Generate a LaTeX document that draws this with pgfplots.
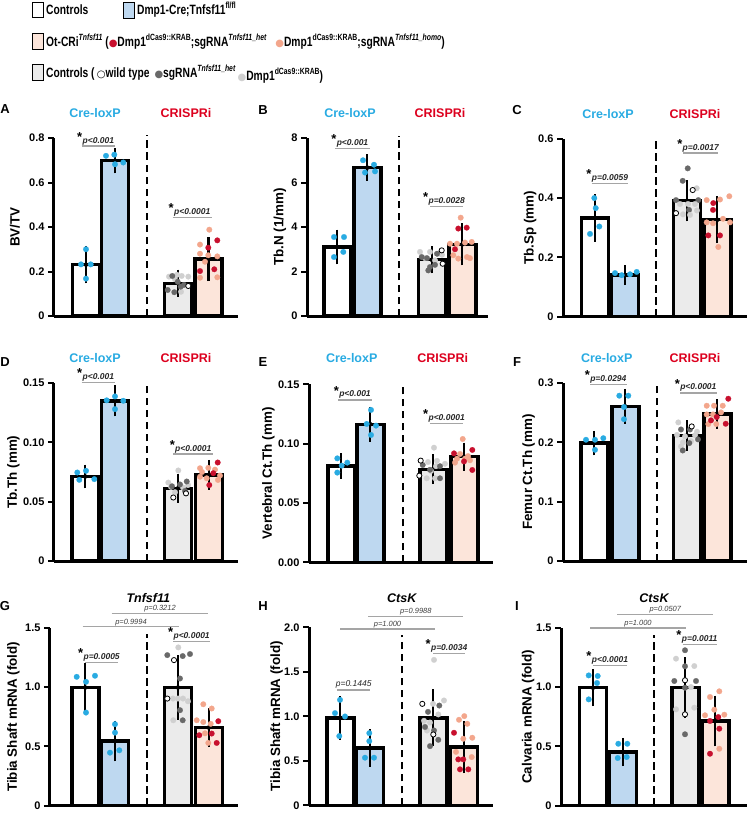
\documentclass[border=0pt]{standalone}
\usepackage{pgfplots}
\pgfplotsset{compat=1.18}
\usepackage{fontspec}
\setmainfont{Liberation Sans}
\newfontfamily\narrowf[FakeStretch=0.76]{Liberation Sans}
\newfontfamily\dejavu{DejaVu Sans}
\definecolor{cyanD}{RGB}{41,171,226}
\definecolor{blueBar}{RGB}{190,216,240}
\definecolor{grayBar}{RGB}{235,235,235}
\definecolor{pinkBar}{RGB}{252,229,218}
\definecolor{redD}{RGB}{200,16,46}
\definecolor{salD}{RGB}{243,166,140}
\definecolor{dkD}{RGB}{105,105,105}
\definecolor{ltD}{RGB}{208,208,208}
\definecolor{creT}{RGB}{41,171,226}
\definecolor{criT}{RGB}{220,0,30}
\definecolor{pline}{RGB}{165,165,165}
\newcommand\sups[1]{\raisebox{0.85ex}{\fontsize{9}{9}\selectfont #1}}
\newcommand\supi[1]{\raisebox{0.85ex}{\fontsize{9}{9}\selectfont\itshape #1}}
\newcommand\ldot[1]{\textcolor{#1}{\dejavu\fontsize{10}{10}\selectfont ●}}
\pgfplotsset{
 panel/.style={scale only axis, anchor=south west, height=178pt, axis lines=left,
   axis line style={-, line width=3pt, black}, xmin=0, ymin=0, xtick=\empty,
   tick align=outside, major tick length=6pt, ytick style={line width=2pt, black, solid},
   yticklabel style={font=\fontsize{11}{11}\selectfont\bfseries},
   ylabel style={font=\fontsize{13.4}{13.4}\selectfont\bfseries, anchor=center},
   clip=false, /pgf/number format/assume math mode=true},
 br/.style={ybar, bar shift=0pt, bar width=27, draw=black, line width=3.4pt, fill=#1, forget plot},
 eb/.style={only marks, mark=none, forget plot, /pgfplots/error bars/y dir=both, /pgfplots/error bars/y explicit,
   /pgfplots/error bars/error bar style={line width=2.2pt, black, solid},
   /pgfplots/error bars/error mark options={line width=2.2pt, black, mark size=7pt, solid}},
 dt/.style={only marks, mark=*, mark size=2.8pt, forget plot, mark options={fill=#1, draw=#1, line width=0.2pt, solid}},
 wd/.style={only marks, mark=*, mark size=2.6pt, forget plot, mark options={fill=white, draw=black, line width=0.8pt, solid}},
 dsh/.style={black, line width=2.3pt, dash pattern=on 7.5pt off 4.5pt, forget plot, mark=none},
}
\tikzset{
 pl/.style={draw=pline, line width=1.5pt},
 pt/.style={font=\fontsize{8.5}{8.5}\selectfont\bfseries\itshape, anchor=south, inner sep=0pt, yshift=1.2pt, text=black!85},
 pti/.style={font=\fontsize{8.5}{8.5}\selectfont\itshape, anchor=south, inner sep=0pt, yshift=1.2pt, text=black!85},
 cl/.style={draw=pline, line width=1.2pt},
 ct/.style={font=\fontsize{7.5}{7.5}\selectfont\itshape, anchor=south, inner sep=0pt, yshift=1pt, text=black!75},
 st/.style={font=\fontsize{13}{13}\selectfont\bfseries, anchor=base east, inner sep=0pt},
 ttl/.style={font=\fontsize{12.5}{12.5}\selectfont\bfseries},
 ltr/.style={font=\fontsize{13}{13}\selectfont\bfseries},
 gt/.style={font=\fontsize{12.5}{12.5}\selectfont\bfseries\itshape},
 lg/.style={font=\fontsize{13.5}{13.5}\selectfont\narrowf\bfseries, anchor=base west, inner sep=0pt},
 lbox/.style={draw=black, line width=1.4pt, minimum width=11pt, minimum height=15.5pt, inner sep=0pt},
}
\newcommand\pst[4]{\draw[pl] (axis cs:#1,#3) -- (axis cs:#2,#3);
 \node[pt] (ptn) at (axis cs:{(#1+#2)/2},#3) {#4};
 \node[st] at ([yshift=-4.5pt]ptn.north west) {*};}
\newcommand\pns[4]{\draw[pl] (axis cs:#1,#3) -- (axis cs:#2,#3);
 \node[pti] at (axis cs:{(#1+#2)/2},#3) {#4};}
\newcommand\pcmp[4]{\draw[cl] (axis cs:#1,#3) -- (axis cs:#2,#3);
 \node[ct] at (axis cs:{(#1+#2)/2},#3) {#4};}
\begin{document}
\begin{tikzpicture}
\path[use as bounding box] (0pt,0pt) rectangle (748pt,-813pt);
% ---------- legend ----------
\node[lbox, fill=white] at (38pt,-10pt) {};
\node[lg] at (46pt,-15pt) {Controls};
\node[lbox, fill=blueBar] at (129pt,-10.5pt) {};
\node[lg] at (137pt,-15pt) {Dmp1-Cre;Tnfsf11\sups{fl/fl}};
\node[lbox, fill=pinkBar] at (38pt,-41.5pt) {};
\node[lg] at (46pt,-47pt) {Ot-CRi\supi{Tnfsf11} (\ldot{redD}Dmp1\sups{dCas9::KRAB};sgRNA\supi{Tnfsf11\_het}\hspace{9pt}\ldot{salD}Dmp1\sups{dCas9::KRAB};sgRNA\supi{Tnfsf11\_homo})};
\node[lbox, fill=grayBar] at (38pt,-72.5pt) {};
\node[lg] at (46pt,-78pt) {Controls (\,{\dejavu\fontsize{10}{10}\selectfont ○}wild type\hspace{5pt}\ldot{dkD}sgRNA\supi{Tnfsf11\_het}\,\raisebox{-3pt}{\ldot{ltD}Dmp1\sups{dCas9::KRAB})}};
% ---------- titles and letters ----------
\node[ltr] at (5pt,-109pt) {A};
\node[ltr] at (263pt,-110pt) {B};
\node[ltr] at (517pt,-110pt) {C};
\node[ltr] at (5pt,-362pt) {D};
\node[ltr] at (263pt,-362pt) {E};
\node[ltr] at (517pt,-362pt) {F};
\node[ltr] at (5pt,-606pt) {G};
\node[ltr] at (263pt,-606pt) {H};
\node[ltr] at (517pt,-606pt) {I};
\node[ttl, text=creT] at (95pt,-113.3pt) {Cre-loxP};
\node[ttl, text=criT] at (186pt,-113.3pt) {CRISPRi};
\node[ttl, text=creT] at (350pt,-113.3pt) {Cre-loxP};
\node[ttl, text=criT] at (440pt,-113.3pt) {CRISPRi};
\node[ttl, text=creT] at (608pt,-114pt) {Cre-loxP};
\node[ttl, text=criT] at (695pt,-114pt) {CRISPRi};
\node[ttl, text=creT] at (95pt,-358.3pt) {Cre-loxP};
\node[ttl, text=criT] at (186pt,-358.3pt) {CRISPRi};
\node[ttl, text=creT] at (351.7pt,-358.3pt) {Cre-loxP};
\node[ttl, text=criT] at (442.7pt,-358.3pt) {CRISPRi};
\node[ttl, text=creT] at (606.7pt,-358.3pt) {Cre-loxP};
\node[ttl, text=criT] at (695pt,-358.3pt) {CRISPRi};
\node[gt] at (148.3pt,-598pt) {Tnfsf11};
\node[gt] at (401.7pt,-598pt) {CtsK};
\node[gt] at (654pt,-598pt) {CtsK};
% ---------- A ----------
\begin{axis}[panel, at={(54pt,-316pt)}, width=184pt, xmax=184, ymax=0.8,
 ytick={0,0.2,0.4,0.6,0.8}, yticklabels={0,0.2,0.4,0.6,0.8}, ylabel={BV/TV},
 ylabel style={at={(axis description cs:-0.212,0.5)}}]
\addplot[br=white] coordinates {(32,0.231)};
\addplot[br=blueBar] coordinates {(61,0.698)};
\addplot[br=grayBar] coordinates {(124,0.147)};
\addplot[br=pinkBar] coordinates {(154.5,0.256)};
\addplot[dsh] coordinates {(93.3,0) (93.3,0.812)};
\addplot[eb] coordinates {(32,0.231) +- (0,0.0525) (61,0.698) +- (0,0.025) (124,0.147) +- (0,0.03) (154.5,0.256) +- (0,0.0675)};
\addplot[dt=cyanD] coordinates {(32,0.30) (27,0.232) (36.7,0.232) (32,0.168) (52,0.72) (60.3,0.725) (61,0.682) (69.3,0.69)};
\addplot[dt=ltD] coordinates {(115,0.177) (127.7,0.18) (134.3,0.177) (123,0.185) (127,0.109) (121,0.165)};
\addplot[dt=dkD] coordinates {(118.3,0.18) (123.7,0.154) (113.7,0.117) (120.3,0.107) (126.7,0.132) (130,0.14)};
\addplot[wd] coordinates {(134.3,0.135)};
\addplot[dt=salD] coordinates {(155.3,0.388) (146,0.321) (146,0.280) (154.3,0.273) (163.3,0.268) (146,0.172) (163.3,0.174) (151,0.244)};
\addplot[dt=redD] coordinates {(163.3,0.340) (154.3,0.307) (146,0.202) (160.3,0.21)};
\pst{27.7}{61}{0.763}{p<0.001}
\pst{118.7}{157.7}{0.442}{p<0.0001}
\end{axis}
% ---------- B ----------
\begin{axis}[panel, at={(307pt,-316pt)}, width=181pt, xmax=181, ymax=8,
 ytick={0,2,4,6,8}, yticklabels={0,2,4,6,8}, ylabel={Tb.N (1/mm)},
 ylabel style={at={(axis description cs:-0.149,0.5)}}]
\addplot[br=white] coordinates {(30.3,3.10)};
\addplot[br=blueBar] coordinates {(60.3,6.67)};
\addplot[br=grayBar] coordinates {(124.7,2.53)};
\addplot[br=pinkBar] coordinates {(155.3,3.22)};
\addplot[dsh] coordinates {(92,0) (92,8.1)};
\addplot[eb] coordinates {(30.3,3.10) +- (0,0.465) (60.3,6.67) +- (0,0.285) (124.7,2.53) +- (0,0.3) (155.3,3.22) +- (0,0.63)};
\addplot[dt=cyanD] coordinates {(27,3.55) (37,3.55) (36.3,2.88) (27,2.65) (56,7.0) (67,6.8) (58,6.45) (68,6.5)};
\addplot[dt=ltD] coordinates {(113,2.88) (123,2.88) (131.3,2.8) (135,2.75) (118,2.6) (128,2.5)};
\addplot[dt=dkD] coordinates {(114.7,2.65) (120,2.6) (130,2.8) (123,2.2) (128,2.3) (121.3,2.05)};
\addplot[wd] coordinates {(134.7,2.95) (135.7,2.35)};
\addplot[dt=salD] coordinates {(153.7,4.42) (143,3.25) (150,3.25) (158,3.3) (164.7,3.33) (146.3,2.73) (151.3,2.58) (160,2.65) (163,2.6)};
\addplot[dt=redD] coordinates {(151.3,3.93) (159.7,3.97) (148,3.0)};
\pst{28}{63}{7.52}{p<0.001}
\pst{123}{156.3}{4.93}{p=0.0028}
\end{axis}
% ---------- C ----------
\begin{axis}[panel, at={(563pt,-316.7pt)}, width=184pt, xmax=184, ymax=0.6,
 ytick={0,0.2,0.4,0.6}, yticklabels={0,0.2,0.4,0.6}, ylabel={Tb.Sp (mm)},
 ylabel style={at={(axis description cs:-0.179,0.5)}}]
\addplot[br=white] coordinates {(32,0.333)};
\addplot[br=blueBar] coordinates {(61.7,0.140)};
\addplot[br=grayBar] coordinates {(124,0.391)};
\addplot[br=pinkBar] coordinates {(154.3,0.327)};
\addplot[dsh] coordinates {(93,0) (93,0.605)};
\addplot[eb] coordinates {(32,0.333) +- (0,0.056) (61.7,0.140) +- (0,0.01) (124,0.391) +- (0,0.046) (154.3,0.327) +- (0,0.0555)};
\addplot[dt=cyanD] coordinates {(31.3,0.40) (32.7,0.366) (36.3,0.304) (27,0.279) (52,0.147) (58.7,0.14) (67,0.143) (73.7,0.151)};
\addplot[dt=dkD] coordinates {(124.7,0.50) (119.7,0.458) (113,0.393) (135.3,0.393) (126,0.36)};
\addplot[dt=ltD] coordinates {(133.7,0.433) (117,0.38) (125,0.38) (132,0.38) (120,0.345) (127,0.343) (134,0.358)};
\addplot[wd] coordinates {(129.7,0.427) (113,0.349)};
\addplot[dt=salD] coordinates {(143.7,0.393) (166.3,0.406) (157,0.395) (143.7,0.318) (150,0.315) (167,0.318) (155.3,0.235) (160,0.33)};
\addplot[dt=redD] coordinates {(150.3,0.383) (145.3,0.274) (157,0.274) (150,0.36)};
\pst{28.7}{65.3}{0.449}{p=0.0059}
\pst{120.3}{155.3}{0.551}{p=0.0017}
\end{axis}
% ---------- D ----------
\begin{axis}[panel, at={(54pt,-561pt)}, width=184pt, xmax=184, ymax=0.15,
 ytick={0,0.05,0.10,0.15}, yticklabels={0,0.05,0.10,0.15}, ylabel={Tb.Th (mm)},
 ylabel style={at={(axis description cs:-0.221,0.5)}}]
\addplot[br=white] coordinates {(31.3,0.0712)};
\addplot[br=blueBar] coordinates {(61,0.135)};
\addplot[br=grayBar] coordinates {(124,0.0613)};
\addplot[br=pinkBar] coordinates {(154.7,0.0726)};
\addplot[dsh] coordinates {(93.3,0) (93.3,0.151)};
\addplot[eb] coordinates {(31.3,0.0712) +- (0,0.0042) (61,0.135) +- (0,0.00725) (124,0.0613) +- (0,0.0065) (154.7,0.0726) +- (0,0.0068)};
\addplot[dt=cyanD] coordinates {(23.3,0.0746) (32,0.076) (25.3,0.0684) (40.3,0.069) (52.7,0.1354) (61,0.1387) (69.3,0.135) (61,0.128)};
\addplot[dt=ltD] coordinates {(124.3,0.0763) (114.3,0.0661) (121,0.058) (129,0.062) (134,0.064) (117,0.0625)};
\addplot[dt=dkD] coordinates {(118,0.063) (126,0.0645) (132.7,0.067) (131,0.059)};
\addplot[wd] coordinates {(119.3,0.0535) (132,0.057)};
\addplot[dt=salD] coordinates {(146,0.0782) (154.3,0.0785) (161,0.077) (146,0.071) (152.7,0.0697) (166,0.072) (164,0.0683) (148,0.075)};
\addplot[dt=redD] coordinates {(163.7,0.083) (159.3,0.074) (155.3,0.064)};
\pst{27.7}{61}{0.1505}{p<0.001}
\pst{119.3}{159.3}{0.090}{p<0.0001}
\end{axis}
% ---------- E ----------
\begin{axis}[panel, at={(309pt,-562.3pt)}, width=184pt, xmax=184, ymax=0.15,
 ytick={0,0.05,0.10,0.15}, yticklabels={0.00,0.05,0.10,0.15}, ylabel={Vertebral Ct.Th (mm)},
 ylabel style={at={(axis description cs:-0.221,0.5)}}]
\addplot[br=white] coordinates {(32.3,0.0812)};
\addplot[br=blueBar] coordinates {(61.3,0.1163)};
\addplot[br=grayBar] coordinates {(124.3,0.0784)};
\addplot[br=pinkBar] coordinates {(155.3,0.089)};
\addplot[dsh] coordinates {(93.7,0) (93.7,0.151)};
\addplot[eb] coordinates {(32.3,0.0812) +- (0,0.005) (61.3,0.1163) +- (0,0.009) (124.3,0.0784) +- (0,0.0067) (155.3,0.089) +- (0,0.0059)};
\addplot[dt=cyanD] coordinates {(28.3,0.0876) (38.3,0.084) (32.7,0.0815) (28.3,0.0756) (62,0.1284) (57.7,0.1166) (67,0.1152) (62,0.1073)};
\addplot[dt=ltD] coordinates {(125,0.0966) (119,0.0845) (128,0.0855) (127,0.081) (136,0.083) (117.7,0.0708) (126,0.0708) (122,0.077)};
\addplot[dt=dkD] coordinates {(113.7,0.082) (131,0.081) (131,0.0708) (121,0.078)};
\addplot[wd] coordinates {(111.7,0.0857) (110.3,0.073)};
\addplot[dt=salD] coordinates {(153.7,0.1039) (151,0.0913) (159,0.0895) (148,0.0873) (156,0.0873) (161,0.086) (146,0.084)};
\addplot[dt=redD] coordinates {(145,0.0918) (163.3,0.0947) (163.3,0.0778) (155,0.085)};
\pst{29.3}{62.7}{0.1368}{p<0.001}
\pst{121}{154.3}{0.1171}{p<0.0001}
\end{axis}
% ---------- F ----------
\begin{axis}[panel, at={(563pt,-561pt)}, width=184pt, xmax=184, ymax=0.3,
 ytick={0,0.1,0.2,0.3}, yticklabels={0,0.1,0.2,0.3}, ylabel={Femur Ct.Th (mm)},
 ylabel style={at={(axis description cs:-0.187,0.5)}}]
\addplot[br=white] coordinates {(31.3,0.1987)};
\addplot[br=blueBar] coordinates {(62.3,0.2606)};
\addplot[br=grayBar] coordinates {(124,0.2116)};
\addplot[br=pinkBar] coordinates {(154.3,0.2477)};
\addplot[dsh] coordinates {(93.7,0) (93.7,0.302)};
\addplot[eb] coordinates {(31.3,0.1987) +- (0,0.009) (62.3,0.2606) +- (0,0.0175) (124,0.2116) +- (0,0.014) (154.3,0.2477) +- (0,0.0132)};
\addplot[dt=cyanD] coordinates {(23,0.2043) (32,0.2043) (40.3,0.207) (32,0.1874) (56.3,0.2786) (65.3,0.2786) (61,0.2595) (61,0.239)};
\addplot[dt=ltD] coordinates {(115.3,0.2336) (114,0.2125) (122,0.21) (132,0.212) (120,0.2) (128,0.202) (118,0.193) (134,0.218)};
\addplot[dt=dkD] coordinates {(118,0.2217) (127,0.2217) (126.3,0.1987) (119.7,0.1863) (135,0.205)};
\addplot[wd] coordinates {(128.7,0.2268)};
\addplot[dt=salD] coordinates {(143.7,0.2617) (151,0.2617) (159.7,0.2617) (158,0.2505) (143.7,0.247) (150,0.247) (145.3,0.2308) (153.3,0.2308)};
\addplot[dt=redD] coordinates {(165.3,0.2735) (153.7,0.2426) (162.7,0.2313) (148,0.237)};
\pst{27}{63.7}{0.2972}{p=0.0294}
\pst{117}{153.7}{0.2831}{p<0.0001}
\end{axis}
% ---------- G ----------
\begin{axis}[panel, at={(50pt,-805.7pt)}, width=188pt, xmax=188, ymax=1.5,
 ytick={0,0.5,1,1.5}, yticklabels={0,0.5,1.0,1.5}, ylabel={Tibia Shaft mRNA (fold)},
 ylabel style={at={(axis description cs:-0.195,0.5)}}]
\addplot[br=white] coordinates {(35.3,0.996)};
\addplot[br=blueBar] coordinates {(65,0.546)};
\addplot[br=grayBar] coordinates {(128,0.996)};
\addplot[br=pinkBar] coordinates {(158.7,0.659)};
\addplot[dsh] coordinates {(97.3,0) (97.3,1.45)};
\addplot[eb] coordinates {(35.3,0.996) +- (0,0.1435) (65,0.546) +- (0,0.113) (128,0.996) +- (0,0.214) (158.7,0.659) +- (0,0.107)};
\addplot[dt=cyanD] coordinates {(26.7,1.086) (36,1.044) (45,1.095) (36,0.785) (65,0.687) (65,0.616) (60,0.447) (69.3,0.467)};
\addplot[dt=ltD] coordinates {(128.3,1.334) (123,0.903) (128,0.903) (133,0.903) (138,0.88) (123.3,0.72)};
\addplot[dt=dkD] coordinates {(117.3,1.269) (132.7,1.261) (140,1.278) (130,1.072) (130,0.805) (132.7,0.72)};
\addplot[wd] coordinates {(124,1.227) (117.3,0.903)};
\addplot[dt=salD] coordinates {(153.3,0.855) (161.7,0.819) (146.7,0.72) (153.3,0.705) (160.7,0.69) (158.3,0.529) (155,0.61)};
\addplot[dt=redD] coordinates {(168.3,0.712) (149.3,0.594) (161.7,0.608) (166.7,0.529)};
\pcmp{61.7}{158.3}{1.621}{p=0.3212}
\pcmp{32.7}{129.3}{1.508}{p=0.9994}
\pst{35}{68.3}{1.207}{p=0.0005}
\pst{123.3}{160}{1.382}{p<0.0001}
\end{axis}
% ---------- H ----------
\begin{axis}[panel, at={(309pt,-805.3pt)}, width=184pt, xmax=184, ymax=2,
 ytick={0,0.5,1,1.5,2}, yticklabels={0,0.5,1.0,1.5,2.0}, ylabel={Tibia Shaft mRNA (fold)},
 ylabel style={at={(axis description cs:-0.176,0.5)}}]
\addplot[br=white] coordinates {(31.3,0.983)};
\addplot[br=blueBar] coordinates {(60.7,0.643)};
\addplot[br=grayBar] coordinates {(124.3,0.983)};
\addplot[br=pinkBar] coordinates {(155,0.654)};
\addplot[dsh] coordinates {(92.7,0) (92.7,1.91)};
\addplot[eb] coordinates {(31.3,0.983) +- (0,0.165) (60.7,0.643) +- (0,0.131) (124.3,0.983) +- (0,0.24) (155,0.654) +- (0,0.213)};
\addplot[dt=cyanD] coordinates {(31,1.185) (26,1.036) (36,0.998) (30.3,0.778) (60.3,0.811) (60.3,0.721) (56,0.535) (65,0.535)};
\addplot[dt=ltD] coordinates {(125,1.634) (124,1.14) (135,1.178) (129.3,1.021) (115,0.95) (121,0.93) (118,0.84)};
\addplot[dt=dkD] coordinates {(130.3,1.121) (119,1.05) (125,0.841) (129.3,0.736) (121,0.665) (116,0.88)};
\addplot[wd] coordinates {(113.3,1.14) (124.3,0.796)};
\addplot[dt=salD] coordinates {(155.3,1.002) (150,0.961) (158.3,0.916) (154.3,0.748) (163.3,0.759) (162.7,0.542) (147,0.6)};
\addplot[dt=redD] coordinates {(145,0.815) (149.3,0.516) (154.3,0.516) (151,0.404) (159.3,0.404)};
\pcmp{59.3}{154.3}{2.12}{p=0.9988}
\pcmp{31}{126}{1.981}{p=1.000}
\pns{28.3}{61}{1.297}{p=0.1445}
\pst{124.3}{156}{1.708}{p=0.0034}
\end{axis}
% ---------- I ----------
\begin{axis}[panel, at={(561pt,-805.7pt)}, width=186pt, xmax=186, ymax=1.5,
 ytick={0,0.5,1,1.5}, yticklabels={0,0.5,1.0,1.5}, ylabel={Calvaria mRNA (fold)},
 ylabel style={at={(axis description cs:-0.176,0.5)}}]
\addplot[br=white] coordinates {(32,0.994)};
\addplot[br=blueBar] coordinates {(61.7,0.452)};
\addplot[br=grayBar] coordinates {(124.3,0.994)};
\addplot[br=pinkBar] coordinates {(154.3,0.714)};
\addplot[dsh] coordinates {(93.3,0) (93.3,1.435)};
\addplot[eb] coordinates {(32,0.994) +- (0,0.0955) (61.7,0.452) +- (0,0.06) (124.3,0.994) +- (0,0.198) (154.3,0.714) +- (0,0.155)};
\addplot[dt=cyanD] coordinates {(27.7,1.098) (36.7,1.093) (36,1.034) (27.7,0.896) (57.3,0.522) (66.3,0.522) (56.7,0.402) (65.7,0.41)};
\addplot[dt=dkD] coordinates {(124,1.31) (124,1.175) (113.3,1.051) (135,1.051) (124,0.994) (124,0.602)};
\addplot[dt=ltD] coordinates {(115,1.239) (133.3,1.177) (130,1.0) (115,0.812) (133.3,0.826)};
\addplot[wd] coordinates {(124,1.057) (124,0.77)};
\addplot[dt=salD] coordinates {(149,0.916) (158.3,0.964) (153.3,0.809) (144,0.762) (163.3,0.767) (158.3,0.48)};
\addplot[dt=redD] coordinates {(149,0.714) (157.3,0.747) (158.3,0.649) (149,0.438)};
\pcmp{56.3}{152.3}{1.61}{p=0.0507}
\pcmp{29}{125}{1.497}{p=1.000}
\pst{32.3}{65.7}{1.183}{p<0.0001}
\pst{121.7}{155.7}{1.36}{p=0.0011}
\end{axis}
\end{tikzpicture}
\end{document}
